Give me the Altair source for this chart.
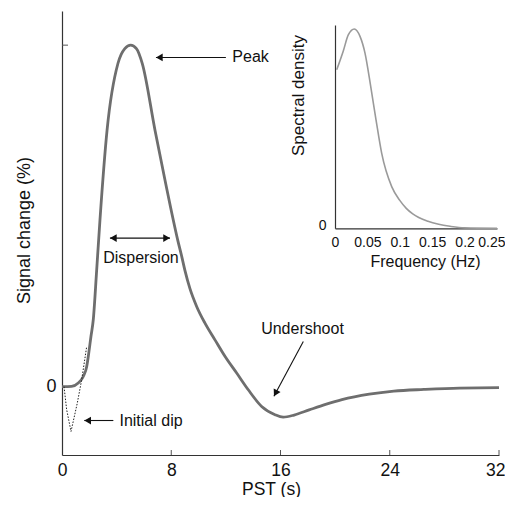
import altair as alt
import pandas as pd

# ---- main haemodynamic response ----
pst = [0, 0.7, 1.19, 1.56, 1.81, 1.93, 2.12, 2.29, 2.54, 2.78, 3.3, 4.1, 4.6, 5.03,
       5.45, 5.88, 6.81, 7.54, 8.47, 8.77, 9.01, 9.37, 9.86, 10.47, 11.2, 11.93,
       12.79, 13.64, 14.62, 15.6, 16.2, 17.0, 18.1, 19.3, 20.5, 22.5, 24.3, 26.5,
       29.1, 32]
signal = [0, 0.001, 0.011, 0.03, 0.059, 0.09, 0.147, 0.196, 0.342, 0.488, 0.751, 0.947,
          0.99, 1.0, 0.99, 0.946, 0.751, 0.605, 0.43, 0.381, 0.339, 0.287, 0.235,
          0.186, 0.137, 0.089, 0.04, -0.009, -0.058, -0.082, -0.089, -0.083, -0.068,
          -0.052, -0.038, -0.022, -0.013, -0.008, -0.004, -0.003]

# ---- initial dip (dotted) ----
dip_t = [0.15, 0.34, 0.66, 1.12, 1.44, 1.81]
dip_y = [0, -0.067, -0.131, -0.048, 0.02, 0.118]

# ---- inset spectral density ----
freq = [0.0026, 0.0128, 0.0205, 0.0298, 0.0386, 0.0463, 0.0551, 0.0633, 0.072, 0.0875,
        0.1, 0.11, 0.12, 0.1435, 0.16, 0.1775, 0.2, 0.25]
density = [0.795, 0.89, 0.97, 1.0, 0.963, 0.879, 0.712, 0.544, 0.377, 0.209, 0.14,
           0.1, 0.072, 0.035, 0.02, 0.01, 0.002, 0.0]

x_ticks = [0, 8, 16, 24, 32]
y_ticks = [0, 1.0]
inset_x_ticks = [0, 0.05, 0.1, 0.15, 0.2, 0.25]

# ---- annotations ----
ann_text = ["Peak", "Dispersion", "Initial dip", "Undershoot"]
ann_x = [13.81, 5.78, 6.52, 17.61]
ann_y = [0.964, 0.376, -0.099, 0.169]

arr_x1 = [12.0, 3.51, 3.76, 17.67]
arr_y1 = [0.964, 0.435, -0.099, 0.132]
arr_x2 = [6.88, 7.91, 1.63, 15.52]
arr_y2 = [0.964, 0.435, -0.099, -0.028]

FONT = "Liberation Sans"
W, H = 437, 444

mx = alt.Scale(domain=[0, 32], nice=False, zero=False)
my = alt.Scale(domain=[-0.2, 1.1], nice=False, zero=False)

x_axis = alt.Axis(
    values=x_ticks, ticks=False, grid=False, title="PST (s)",
    labelFontSize=17.5, labelPadding=6, labelFlush=False,
    labelAlign={"condition": {"test": "datum.value >= 31", "value": "right"},
                "value": "center"},
    labelOffset={"condition": {"test": "datum.value >= 31", "value": 6},
                 "value": 0},
    titleFontSize=17.5, titleX=209, titleY=34, titleBaseline="middle",
    titleAlign="center")
y_axis = alt.Axis(
    values=y_ticks, ticks=False, grid=False,
    labelExpr="datum.value == 0 ? '0' : ''",
    labelFontSize=18, labelPadding=6,
    title="Signal change (%)", titleFontSize=18, titleAngle=-90,
    titleX=-38, titleY=219, titleAlign="center", titleBaseline="middle")


def X(field="x"):
    return alt.X(f"{field}:Q", scale=mx, axis=x_axis, title="PST (s)")


def Y(field="y"):
    return alt.Y(f"{field}:Q", scale=my, axis=y_axis, title="Signal change (%)")


curve_df = pd.DataFrame({"x": pst, "y": signal})
dip_df = pd.DataFrame({"x": dip_t, "y": dip_y})
spec_df = pd.DataFrame({"f": freq, "d": density})
ann_df = pd.DataFrame({"x": ann_x, "y": ann_y, "t": ann_text})
arr_df = pd.DataFrame({"x": arr_x1, "y": arr_y1, "x2": arr_x2, "y2": arr_y2})

curve = alt.Chart(curve_df).mark_line(
    color="#6e6e6e", strokeWidth=2.8, interpolate="monotone"
).encode(x=X(), y=Y())

dip = alt.Chart(dip_df).mark_line(
    color="#222", strokeWidth=1, strokeDash=[1.5, 1.5]
).encode(x=X(), y=Y())

xtick_df = pd.DataFrame({"x": x_ticks[1:]})
xt = alt.Chart(xtick_df).mark_rule(color="#555", strokeWidth=1).encode(
    x=X(), y=alt.value(H), y2=alt.value(H - 5),
)
ytick_df = pd.DataFrame({"y": [1.0]})
yt = alt.Chart(ytick_df).mark_rule(color="#555", strokeWidth=1).encode(
    y=Y(), x=alt.value(0), x2=alt.value(6),
)

labels = alt.Chart(ann_df).mark_text(
    font=FONT, fontSize=16, color="#111", align="center", baseline="middle"
).encode(x=X(), y=Y(), text="t:N")

arrows = alt.Chart(arr_df).mark_rule(color="#111", strokeWidth=1.1).encode(
    x=X(), y=Y(), x2="x2:Q", y2="y2:Q",
)


def head(xv, yv, shape, dx=0, dy=0, angle=0):
    d = pd.DataFrame({"x": [xv], "y": [yv]})
    return alt.Chart(d).mark_point(
        shape=shape, filled=True, color="#111", size=60, opacity=1,
        xOffset=dx, yOffset=dy, angle=angle
    ).encode(x=X(), y=Y())


heads = [
    head(arr_x2[0], arr_y2[0], "triangle-left", dx=3.4),
    head(arr_x1[1], arr_y1[1], "triangle-left", dx=3.4),
    head(arr_x2[1], arr_y2[1], "triangle-right", dx=-3.4),
    head(arr_x2[2], arr_y2[2], "triangle-left", dx=3.4),
    head(arr_x2[3], arr_y2[3], "triangle-up", dx=1.6, dy=-3.0, angle=208),
]

main = alt.layer(curve, dip, xt, yt, arrows, labels, *heads)

# ---- inset, drawn with its own scales inside the same view ----
ix = alt.Scale(domain=[0, 0.25], range=[273, 435], nice=False, zero=False)
iy = alt.Scale(domain=[0, 1.02], range=[217.3, 14], nice=False, zero=False)

inset = alt.Chart(spec_df).mark_line(
    color="#9a9a9a", strokeWidth=1.6, interpolate="monotone"
).encode(
    x=alt.X("f:Q", scale=ix, axis=alt.Axis(
        orient="bottom", offset=-(H - 217.3), values=inset_x_ticks, format="~g",
        ticks=False, grid=False, labelFontSize=14, labelPadding=7, labelFlush=False,
        labelAlign={"condition": {"test": "datum.value >= 0.24", "value": "right"},
                    "value": "center"},
        labelOffset={"condition": {"test": "datum.value >= 0.24", "value": 8},
                     "value": 0},
        title="Frequency (Hz)", titleFontSize=16, titleX=363, titleY=33,
        titleAlign="center", titleBaseline="middle")),
    y=alt.Y("d:Q", scale=iy, axis=alt.Axis(
        orient="left", offset=-273, values=[0], ticks=False, grid=False,
        labelFontSize=14, labelPadding=9, labelOffset=-3,
        title="Spectral density", titleFontSize=17, titleAngle=-90,
        titleX=-37, titleY=84, titleAlign="center", titleBaseline="middle")),
)

chart = alt.layer(main, inset).resolve_scale(
    x="independent", y="independent"
).resolve_axis(
    x="independent", y="independent"
).properties(
    width=W, height=H,
    padding={"left": 54, "top": 3, "right": 6, "bottom": 42},
    autosize=alt.AutoSizeParams(type="none"),
    background="white",
).configure_view(
    stroke=None
).configure_axis(
    labelFont=FONT, titleFont=FONT, labelColor="#111", titleColor="#111",
    titleFontWeight="normal", domainColor="#333", domainWidth=1.2,
)

chart.save("out.html", embed_options={"renderer": "svg", "actions": False})
